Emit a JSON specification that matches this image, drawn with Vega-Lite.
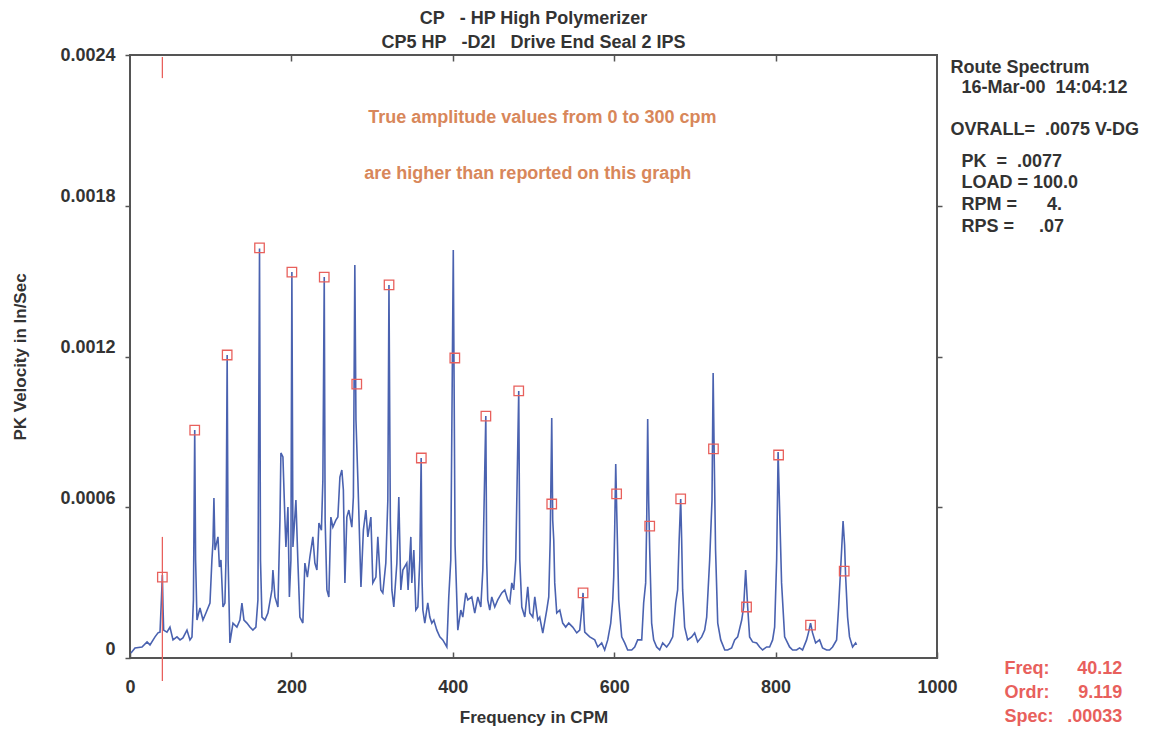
{
  "$schema": "https://vega.github.io/schema/vega-lite/v6.json",
  "width": 807,
  "height": 603,
  "autosize": {"type": "none"},
  "padding": {"left": 130, "top": 55, "right": 214, "bottom": 71},
  "background": "white",
  "config": {
    "view": {"stroke": "#555555", "strokeWidth": 2},
    "font": "Liberation Sans",
    "axis": {"labelFont": "Liberation Sans", "titleFont": "Liberation Sans", "labelFontWeight": "bold", "titleFontWeight": "bold", "labelColor": "#333333", "titleColor": "#333333", "labelFontSize": 18, "titleFontSize": 17, "domainColor": "#555555", "tickColor": "#555555", "grid": false, "domainWidth": 2, "tickWidth": 1.5, "labelFlush": false}
  },
  "title": {
    "text": ["CP\u00a0\u00a0\u00a0- HP High Polymerizer", "CP5 HP\u00a0\u00a0\u00a0-D2I\u00a0\u00a0\u00a0Drive End Seal 2 IPS"],
    "fontSize": 18, "fontWeight": "bold", "color": "#333333", "lineHeight": 24, "offset": -6, "anchor": "middle", "font": "Liberation Sans"
  },
  "datasets": {
    "spectrum": [
      {"cpm":1.2,"ips":0.000020},{"cpm":6.2,"ips":0.000040},{"cpm":14.9,"ips":0.000044},{"cpm":21.1,"ips":0.000064},{"cpm":24.8,"ips":0.000052},{"cpm":31.0,"ips":0.000084},{"cpm":34.7,"ips":0.000100},{"cpm":37.2,"ips":0.000103},{"cpm":38.9,"ips":0.000231},{"cpm":40.1,"ips":0.000330},{"cpm":41.0,"ips":0.000191},{"cpm":41.7,"ips":0.000111},{"cpm":45.8,"ips":0.000103},{"cpm":49.5,"ips":0.000123},{"cpm":53.3,"ips":0.000072},{"cpm":58.2,"ips":0.000084},{"cpm":62.0,"ips":0.000072},{"cpm":65.6,"ips":0.000080},{"cpm":70.6,"ips":0.000111},{"cpm":74.3,"ips":0.000072},{"cpm":76.8,"ips":0.000084},{"cpm":78.6,"ips":0.000231},{"cpm":80.2,"ips":0.000907},{"cpm":81.3,"ips":0.000390},{"cpm":83.0,"ips":0.000151},{"cpm":86.7,"ips":0.000199},{"cpm":90.4,"ips":0.000151},{"cpm":94.1,"ips":0.000179},{"cpm":99.1,"ips":0.000219},{"cpm":101.5,"ips":0.000390},{"cpm":102.8,"ips":0.000458},{"cpm":104.0,"ips":0.000637},{"cpm":105.3,"ips":0.000430},{"cpm":109.0,"ips":0.000482},{"cpm":110.8,"ips":0.000362},{"cpm":112.7,"ips":0.000390},{"cpm":115.2,"ips":0.000203},{"cpm":117.6,"ips":0.000219},{"cpm":118.9,"ips":0.000390},{"cpm":120.4,"ips":0.001206},{"cpm":121.6,"ips":0.000390},{"cpm":123.8,"ips":0.000060},{"cpm":127.6,"ips":0.000139},{"cpm":132.5,"ips":0.000123},{"cpm":136.2,"ips":0.000151},{"cpm":138.7,"ips":0.000219},{"cpm":141.2,"ips":0.000151},{"cpm":144.9,"ips":0.000139},{"cpm":148.6,"ips":0.000123},{"cpm":152.3,"ips":0.000111},{"cpm":156.0,"ips":0.000123},{"cpm":158.5,"ips":0.000231},{"cpm":160.5,"ips":0.001630},{"cpm":161.7,"ips":0.000390},{"cpm":163.5,"ips":0.000163},{"cpm":167.2,"ips":0.000151},{"cpm":170.9,"ips":0.000179},{"cpm":175.9,"ips":0.000271},{"cpm":177.1,"ips":0.000350},{"cpm":179.6,"ips":0.000243},{"cpm":183.3,"ips":0.000203},{"cpm":185.8,"ips":0.000549},{"cpm":187.0,"ips":0.000816},{"cpm":189.5,"ips":0.000800},{"cpm":192.0,"ips":0.000549},{"cpm":193.2,"ips":0.000442},{"cpm":195.7,"ips":0.000601},{"cpm":197.5,"ips":0.000243},{"cpm":199.4,"ips":0.000390},{"cpm":200.6,"ips":0.001536},{"cpm":201.9,"ips":0.000442},{"cpm":205.6,"ips":0.000629},{"cpm":208.1,"ips":0.000378},{"cpm":210.5,"ips":0.000163},{"cpm":214.2,"ips":0.000139},{"cpm":216.7,"ips":0.000378},{"cpm":219.8,"ips":0.000322},{"cpm":222.9,"ips":0.000402},{"cpm":226.6,"ips":0.000482},{"cpm":229.1,"ips":0.000378},{"cpm":231.6,"ips":0.000350},{"cpm":234.1,"ips":0.000537},{"cpm":237.2,"ips":0.000509},{"cpm":239.0,"ips":0.000708},{"cpm":240.7,"ips":0.001516},{"cpm":241.8,"ips":0.000549},{"cpm":244.0,"ips":0.000271},{"cpm":246.4,"ips":0.000243},{"cpm":248.9,"ips":0.000561},{"cpm":251.4,"ips":0.000521},{"cpm":255.1,"ips":0.000549},{"cpm":257.6,"ips":0.000561},{"cpm":260.1,"ips":0.000720},{"cpm":262.5,"ips":0.000748},{"cpm":264.4,"ips":0.000669},{"cpm":266.3,"ips":0.000299},{"cpm":268.7,"ips":0.000561},{"cpm":271.2,"ips":0.000589},{"cpm":274.9,"ips":0.000521},{"cpm":276.8,"ips":0.000641},{"cpm":278.6,"ips":0.001564},{"cpm":280.0,"ips":0.000947},{"cpm":282.5,"ips":0.000697},{"cpm":286.2,"ips":0.000283},{"cpm":289.2,"ips":0.000509},{"cpm":292.3,"ips":0.000589},{"cpm":294.7,"ips":0.000482},{"cpm":298.5,"ips":0.000561},{"cpm":300.9,"ips":0.000299},{"cpm":304.7,"ips":0.000322},{"cpm":307.1,"ips":0.000482},{"cpm":310.8,"ips":0.000271},{"cpm":313.3,"ips":0.000259},{"cpm":317.0,"ips":0.000378},{"cpm":319.5,"ips":0.000629},{"cpm":320.9,"ips":0.001485},{"cpm":322.6,"ips":0.000549},{"cpm":324.5,"ips":0.000271},{"cpm":326.9,"ips":0.000203},{"cpm":330.7,"ips":0.000378},{"cpm":333.1,"ips":0.000641},{"cpm":335.6,"ips":0.000271},{"cpm":338.1,"ips":0.000350},{"cpm":343.0,"ips":0.000378},{"cpm":344.6,"ips":0.000271},{"cpm":348.0,"ips":0.000482},{"cpm":349.2,"ips":0.000299},{"cpm":351.7,"ips":0.000430},{"cpm":354.2,"ips":0.000191},{"cpm":356.7,"ips":0.000203},{"cpm":359.1,"ips":0.000390},{"cpm":360.8,"ips":0.000796},{"cpm":361.9,"ips":0.000310},{"cpm":362.9,"ips":0.000191},{"cpm":365.3,"ips":0.000139},{"cpm":369.0,"ips":0.000219},{"cpm":371.5,"ips":0.000163},{"cpm":374.0,"ips":0.000139},{"cpm":376.5,"ips":0.000151},{"cpm":380.2,"ips":0.000111},{"cpm":383.9,"ips":0.000084},{"cpm":387.6,"ips":0.000072},{"cpm":392.6,"ips":0.000044},{"cpm":395.0,"ips":0.000243},{"cpm":397.5,"ips":0.000390},{"cpm":400.6,"ips":0.001624},{"cpm":401.6,"ips":0.001100},{"cpm":402.8,"ips":0.000450},{"cpm":406.2,"ips":0.000111},{"cpm":409.9,"ips":0.000191},{"cpm":412.4,"ips":0.000163},{"cpm":416.1,"ips":0.000259},{"cpm":418.6,"ips":0.000231},{"cpm":423.5,"ips":0.000243},{"cpm":427.2,"ips":0.000179},{"cpm":431.0,"ips":0.000243},{"cpm":434.7,"ips":0.000203},{"cpm":437.2,"ips":0.000350},{"cpm":440.9,"ips":0.000963},{"cpm":442.0,"ips":0.000390},{"cpm":443.3,"ips":0.000231},{"cpm":445.8,"ips":0.000191},{"cpm":448.3,"ips":0.000243},{"cpm":452.0,"ips":0.000203},{"cpm":455.7,"ips":0.000231},{"cpm":460.7,"ips":0.000259},{"cpm":464.4,"ips":0.000271},{"cpm":468.1,"ips":0.000231},{"cpm":470.6,"ips":0.000219},{"cpm":473.1,"ips":0.000299},{"cpm":475.5,"ips":0.000271},{"cpm":478.0,"ips":0.000390},{"cpm":481.7,"ips":0.001063},{"cpm":483.0,"ips":0.000390},{"cpm":485.5,"ips":0.000203},{"cpm":489.2,"ips":0.000163},{"cpm":492.9,"ips":0.000283},{"cpm":495.4,"ips":0.000179},{"cpm":499.1,"ips":0.000163},{"cpm":501.6,"ips":0.000243},{"cpm":505.3,"ips":0.000151},{"cpm":507.7,"ips":0.000163},{"cpm":511.5,"ips":0.000099},{"cpm":516.4,"ips":0.000191},{"cpm":518.9,"ips":0.000243},{"cpm":520.7,"ips":0.000470},{"cpm":522.6,"ips":0.000955},{"cpm":523.8,"ips":0.000549},{"cpm":525.1,"ips":0.000470},{"cpm":526.3,"ips":0.000299},{"cpm":528.8,"ips":0.000179},{"cpm":532.6,"ips":0.000191},{"cpm":536.2,"ips":0.000139},{"cpm":539.9,"ips":0.000123},{"cpm":543.7,"ips":0.000139},{"cpm":548.6,"ips":0.000123},{"cpm":553.6,"ips":0.000100},{"cpm":557.3,"ips":0.000111},{"cpm":559.8,"ips":0.000191},{"cpm":561.4,"ips":0.000259},{"cpm":562.6,"ips":0.000151},{"cpm":563.5,"ips":0.000103},{"cpm":569.7,"ips":0.000084},{"cpm":575.9,"ips":0.000072},{"cpm":579.6,"ips":0.000044},{"cpm":584.5,"ips":0.000060},{"cpm":588.2,"ips":0.000032},{"cpm":592.0,"ips":0.000072},{"cpm":595.7,"ips":0.000139},{"cpm":598.2,"ips":0.000231},{"cpm":599.4,"ips":0.000322},{"cpm":600.6,"ips":0.000509},{"cpm":601.9,"ips":0.000772},{"cpm":603.1,"ips":0.000589},{"cpm":605.6,"ips":0.000231},{"cpm":609.3,"ips":0.000084},{"cpm":613.0,"ips":0.000060},{"cpm":616.7,"ips":0.000032},{"cpm":621.7,"ips":0.000032},{"cpm":625.4,"ips":0.000044},{"cpm":629.1,"ips":0.000072},{"cpm":634.1,"ips":0.000072},{"cpm":636.5,"ips":0.000219},{"cpm":639.0,"ips":0.000299},{"cpm":640.3,"ips":0.000549},{"cpm":641.5,"ips":0.000951},{"cpm":642.7,"ips":0.000629},{"cpm":644.0,"ips":0.000430},{"cpm":646.4,"ips":0.000139},{"cpm":648.9,"ips":0.000072},{"cpm":652.6,"ips":0.000044},{"cpm":656.4,"ips":0.000032},{"cpm":660.1,"ips":0.000060},{"cpm":665.0,"ips":0.000044},{"cpm":668.7,"ips":0.000060},{"cpm":672.5,"ips":0.000084},{"cpm":676.2,"ips":0.000219},{"cpm":678.6,"ips":0.000271},{"cpm":680.5,"ips":0.000470},{"cpm":682.4,"ips":0.000633},{"cpm":683.6,"ips":0.000470},{"cpm":684.8,"ips":0.000271},{"cpm":687.3,"ips":0.000123},{"cpm":691.0,"ips":0.000072},{"cpm":696.0,"ips":0.000084},{"cpm":699.7,"ips":0.000100},{"cpm":703.4,"ips":0.000064},{"cpm":708.4,"ips":0.000084},{"cpm":712.1,"ips":0.000111},{"cpm":714.6,"ips":0.000163},{"cpm":718.3,"ips":0.000390},{"cpm":721.2,"ips":0.000629},{"cpm":722.6,"ips":0.001134},{"cpm":724.0,"ips":0.000788},{"cpm":725.6,"ips":0.000430},{"cpm":728.3,"ips":0.000139},{"cpm":732.0,"ips":0.000072},{"cpm":737.0,"ips":0.000032},{"cpm":740.6,"ips":0.000032},{"cpm":745.5,"ips":0.000040},{"cpm":749.3,"ips":0.000072},{"cpm":753.0,"ips":0.000084},{"cpm":758.0,"ips":0.000151},{"cpm":760.4,"ips":0.000203},{"cpm":762.9,"ips":0.000350},{"cpm":765.4,"ips":0.000203},{"cpm":767.8,"ips":0.000084},{"cpm":771.5,"ips":0.000064},{"cpm":776.5,"ips":0.000060},{"cpm":780.2,"ips":0.000044},{"cpm":783.9,"ips":0.000032},{"cpm":788.9,"ips":0.000044},{"cpm":792.6,"ips":0.000044},{"cpm":796.3,"ips":0.000072},{"cpm":798.8,"ips":0.000123},{"cpm":801.3,"ips":0.000390},{"cpm":803.1,"ips":0.000820},{"cpm":805.0,"ips":0.000589},{"cpm":807.4,"ips":0.000299},{"cpm":811.2,"ips":0.000084},{"cpm":817.3,"ips":0.000044},{"cpm":821.1,"ips":0.000032},{"cpm":826.0,"ips":0.000032},{"cpm":829.7,"ips":0.000040},{"cpm":833.4,"ips":0.000032},{"cpm":838.4,"ips":0.000072},{"cpm":840.9,"ips":0.000103},{"cpm":843.3,"ips":0.000139},{"cpm":845.8,"ips":0.000100},{"cpm":849.6,"ips":0.000060},{"cpm":854.5,"ips":0.000072},{"cpm":858.2,"ips":0.000040},{"cpm":863.2,"ips":0.000032},{"cpm":866.9,"ips":0.000032},{"cpm":870.6,"ips":0.000044},{"cpm":875.6,"ips":0.000072},{"cpm":878.1,"ips":0.000203},{"cpm":881.8,"ips":0.000430},{"cpm":883.6,"ips":0.000545},{"cpm":885.5,"ips":0.000450},{"cpm":886.7,"ips":0.000330},{"cpm":889.2,"ips":0.000163},{"cpm":891.6,"ips":0.000084},{"cpm":895.4,"ips":0.000044},{"cpm":899.1,"ips":0.000060},{"cpm":900.3,"ips":0.000052}
    ],
    "peaks": [
      {"cpm":40.1,"ips":0.000322},{"cpm":80.2,"ips":0.000907},{"cpm":120.4,"ips":0.001206},{"cpm":160.5,"ips":0.001632},{"cpm":200.6,"ips":0.001536},{"cpm":240.7,"ips":0.001516},{"cpm":281.0,"ips":0.001090},{"cpm":321.0,"ips":0.001485},{"cpm":361.0,"ips":0.000796},{"cpm":402.5,"ips":0.001194},{"cpm":441.0,"ips":0.000963},{"cpm":481.7,"ips":0.001063},{"cpm":522.6,"ips":0.000613},{"cpm":561.4,"ips":0.000259},{"cpm":603.0,"ips":0.000653},{"cpm":644.0,"ips":0.000525},{"cpm":682.4,"ips":0.000633},{"cpm":723.0,"ips":0.000832},{"cpm":764.0,"ips":0.000203},{"cpm":803.7,"ips":0.000808},{"cpm":843.3,"ips":0.000131},{"cpm":885.0,"ips":0.000346}
    ],
    "cursor": [
      {"cpm":40.12,"ips":0.002392,"ips2":0.002308},
      {"cpm":40.12,"ips":0.000482,"ips2":-0.0000915}
    ],
    "notes": [
      {"cpm":511,"ips":0.00215,"label":"True amplitude values from 0 to 300 cpm"},
      {"cpm":493,"ips":0.001926,"label":"are higher than reported on this graph"}
    ],
    "info": [
      {"cpm":1016.7,"ips":0.002348,"label":"Route Spectrum"},
      {"cpm":1030.4,"ips":0.002269,"label":"16-Mar-00\u00a0\u00a014:04:12"},
      {"cpm":1016.7,"ips":0.002101,"label":"OVRALL=\u00a0\u00a0.0075 V-DG"},
      {"cpm":1030.4,"ips":0.001974,"label":"PK\u00a0\u00a0=\u00a0\u00a0.0077"},
      {"cpm":1030.4,"ips":0.001891,"label":"LOAD = 100.0"},
      {"cpm":1030.4,"ips":0.001803,"label":"RPM =\u00a0\u00a0\u00a0\u00a0\u00a0\u00a04."},
      {"cpm":1030.4,"ips":0.001715,"label":"RPS =\u00a0\u00a0\u00a0\u00a0\u00a0.07"}
    ],
    "cursorKeys": [
      {"cpm":1083.6,"ips":-0.0000438,"label":"Freq:"},
      {"cpm":1083.6,"ips":-0.000139,"label":"Ordr:"},
      {"cpm":1083.6,"ips":-0.000235,"label":"Spec:"}
    ],
    "cursorValues": [
      {"cpm":1229.7,"ips":-0.0000438,"label":"40.12"},
      {"cpm":1229.7,"ips":-0.000139,"label":"9.119"},
      {"cpm":1229.7,"ips":-0.000235,"label":".00033"}
    ]
  },
  "resolve": {"axis": {"x": "independent", "y": "independent"}},
  "layer": [
    {
      "data": {"name": "spectrum"},
      "mark": {"type": "line", "color": "#4a62b0", "strokeWidth": 1.6, "clip": false},
      "encoding": {
        "x": {"field": "cpm", "type": "quantitative", "scale": {"domain": [0, 1000], "nice": false, "zero": false},
              "axis": {"orient": "bottom", "values": [0, 200, 400, 600, 800, 1000], "format": "d", "title": "Frequency in CPM", "tickSize": -6, "labelPadding": 26, "titlePadding": 13, "domain": false}},
        "y": {"field": "ips", "type": "quantitative", "scale": {"domain": [0, 0.0024], "nice": false, "zero": false},
              "axis": {"orient": "left", "values": [0, 0.0006, 0.0012, 0.0018, 0.0024], "labelExpr": "datum.value == 0 ? '0' : format(datum.value, '.4f')", "title": "PK Velocity in In/Sec", "tickSize": 5, "labelPadding": 10, "labelOffset": {"condition": {"test": "datum.value >= 0.0023", "value": 0}, "value": -9}, "titlePadding": 30, "domain": false}}
      }
    },
    {
      "data": {"name": "peaks"},
      "mark": {"type": "point", "shape": "square", "size": 90, "filled": false, "stroke": "#e8605c", "strokeWidth": 1.3, "opacity": 1},
      "encoding": {
        "x": {"field": "cpm", "type": "quantitative", "scale": {"domain": [0, 1000], "nice": false, "zero": false}, "axis": null},
        "y": {"field": "ips", "type": "quantitative", "scale": {"domain": [0, 0.0024], "nice": false, "zero": false}, "axis": null}
      }
    },
    {
      "data": {"name": "cursor"},
      "mark": {"type": "rule", "color": "#e8605c", "strokeWidth": 1.3},
      "encoding": {
        "x": {"field": "cpm", "type": "quantitative", "scale": {"domain": [0, 1000], "nice": false, "zero": false}, "axis": null},
        "y": {"field": "ips", "type": "quantitative", "scale": {"domain": [0, 0.0024], "nice": false, "zero": false}, "axis": null},
        "y2": {"field": "ips2"}
      }
    },
    {
      "data": {"name": "notes"},
      "mark": {"type": "text", "color": "#d8875a", "fontSize": 18, "fontWeight": "bold", "font": "Liberation Sans", "align": "center", "baseline": "middle"},
      "encoding": {
        "x": {"field": "cpm", "type": "quantitative", "scale": {"domain": [0, 1000], "nice": false, "zero": false},
              "axis": {"orient": "top", "values": [200, 400, 600, 800], "labels": false, "title": null, "tickSize": -6, "domain": false}},
        "y": {"field": "ips", "type": "quantitative", "scale": {"domain": [0, 0.0024], "nice": false, "zero": false},
              "axis": {"orient": "right", "values": [0.0006, 0.0012, 0.0018], "labels": false, "title": null, "tickSize": 5, "domain": false}},
        "text": {"field": "label"}
      }
    },
    {
      "data": {"name": "info"},
      "mark": {"type": "text", "color": "#333333", "fontSize": 18, "fontWeight": "bold", "font": "Liberation Sans", "align": "left", "baseline": "middle"},
      "encoding": {
        "x": {"field": "cpm", "type": "quantitative", "scale": {"domain": [0, 1000], "nice": false, "zero": false}, "axis": null},
        "y": {"field": "ips", "type": "quantitative", "scale": {"domain": [0, 0.0024], "nice": false, "zero": false}, "axis": null},
        "text": {"field": "label"}
      }
    },
    {
      "data": {"name": "cursorKeys"},
      "mark": {"type": "text", "color": "#e8605c", "fontSize": 18, "fontWeight": "bold", "font": "Liberation Sans", "align": "left", "baseline": "middle"},
      "encoding": {
        "x": {"field": "cpm", "type": "quantitative", "scale": {"domain": [0, 1000], "nice": false, "zero": false}, "axis": null},
        "y": {"field": "ips", "type": "quantitative", "scale": {"domain": [0, 0.0024], "nice": false, "zero": false}, "axis": null},
        "text": {"field": "label"}
      }
    },
    {
      "data": {"name": "cursorValues"},
      "mark": {"type": "text", "color": "#e8605c", "fontSize": 18, "fontWeight": "bold", "font": "Liberation Sans", "align": "right", "baseline": "middle"},
      "encoding": {
        "x": {"field": "cpm", "type": "quantitative", "scale": {"domain": [0, 1000], "nice": false, "zero": false}, "axis": null},
        "y": {"field": "ips", "type": "quantitative", "scale": {"domain": [0, 0.0024], "nice": false, "zero": false}, "axis": null},
        "text": {"field": "label"}
      }
    }
  ]
}
